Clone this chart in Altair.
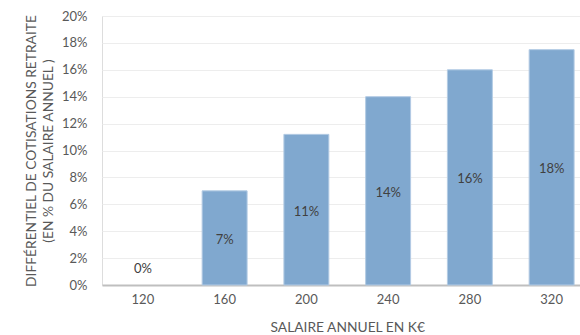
import altair as alt
import pandas as pd

salaires = ["120", "160", "200", "240", "280", "320"]
differentiel = [0.0, 0.07, 0.112, 0.14, 0.16, 0.175]
etiquettes = ["0%", "7%", "11%", "14%", "16%", "18%"]
graduations = [0, 0.02, 0.04, 0.06, 0.08, 0.10, 0.12, 0.14, 0.16, 0.18, 0.20]

df = pd.DataFrame({"salaire": salaires, "diff": differentiel, "label": etiquettes})

FONT = "Lato"

x_scale = alt.Scale(paddingInner=0.45, paddingOuter=0.225, range=[0, 490.5])
x_axis = alt.Axis(
    labelAngle=0,
    ticks=False,
    domainColor="#BFBFBF",
    domainWidth=2,
    labelPadding=8,
    labelFontSize=13,
    labelColor="#595959",
    labelFont=FONT,
    titleFont=FONT,
    titleFontSize=13.8,
    titleFontWeight="normal",
    titleColor="#595959",
    titlePadding=14,
    grid=False,
)
x_title = "SALAIRE ANNUEL EN K€"

y_scale = alt.Scale(domain=[0, 0.2], nice=False)
y_axis = alt.Axis(
    format=".0%",
    values=graduations,
    labelOverlap=False,
    domain=False,
    ticks=False,
    labelPadding=15,
    labelFontSize=13,
    labelColor="#595959",
    labelFont=FONT,
    grid=True,
    gridColor="#EDEDED",
    gridWidth=1,
    titleFont=FONT,
    titleFontSize=13.8,
    titleFontWeight="normal",
    titleColor="#595959",
    titlePadding=6,
    titleLineHeight=17.5,
)
y_title = ["DIFFÉRENTIEL DE COTISATIONS RETRAITE", "(EN % DU SALAIRE ANNUEL )"]


def X():
    return alt.X("salaire:N", sort=salaires, title=x_title, scale=x_scale, axis=x_axis)


def Y(field):
    return alt.Y(field, title=y_title, scale=y_scale, axis=y_axis)


bars = (
    alt.Chart(df)
    .transform_filter("datum.diff > 0")
    .mark_bar(color="#80A8CF", stroke="#B3CBE4", strokeWidth=1)
    .encode(x=X(), y=Y("diff:Q"))
)

labels_pos = (
    alt.Chart(df)
    .transform_filter("datum.diff > 0")
    .transform_calculate(mid="datum.diff / 2")
    .mark_text(font=FONT, fontSize=13, color="#404040", baseline="middle", dy=2)
    .encode(x=X(), y=Y("mid:Q"), text="label:N")
)

labels_zero = (
    alt.Chart(df)
    .transform_filter("datum.diff <= 0")
    .mark_text(font=FONT, fontSize=13, color="#404040", baseline="middle", dy=-16)
    .encode(x=X(), y=Y("diff:Q"), text="label:N")
)

chart = (
    alt.layer(bars, labels_pos, labels_zero)
    .properties(
        width=478,
        height=269,
        autosize=alt.AutoSizeParams(type="none"),
        padding={"left": 102, "top": 16, "right": 0, "bottom": 50},
    )
    .configure_view(stroke=None, strokeWidth=0)
    .configure(background="white")
)

chart.save("out.html", embed_options={"renderer": "svg", "actions": False})
